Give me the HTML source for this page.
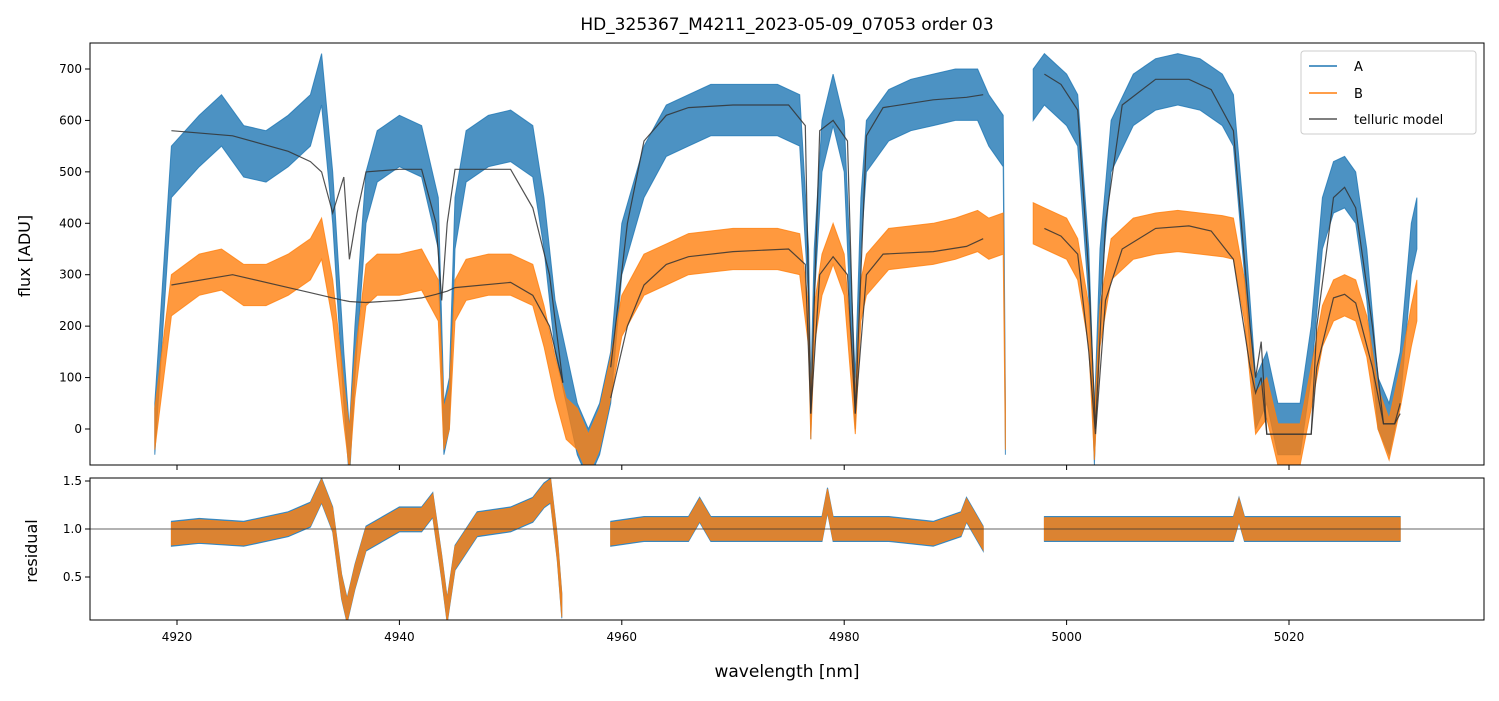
<!DOCTYPE html>
<html><head><meta charset="utf-8">
<style>
body{margin:0;background:#fff;font-family:"Liberation Sans","DejaVu Sans",sans-serif;}
svg text{font-family:"DejaVu Sans","Liberation Sans",sans-serif;}
</style></head>
<body>
<svg id="chart" width="1499" height="696" xmlns="http://www.w3.org/2000/svg">
<rect width="1499" height="696" fill="#fff"/>
<text x="787" y="30" font-size="17" text-anchor="middle">HD_325367_M4211_2023-05-09_07053  order 03</text>
<g id="topPanel"></g>
<g id="botPanel"></g>
<text transform="translate(30,256) rotate(-90)" font-size="16" text-anchor="middle">flux [ADU]</text>
<text transform="translate(37,551) rotate(-90)" font-size="16" text-anchor="middle">residual</text>
<text x="787" y="677" font-size="17" text-anchor="middle">wavelength [nm]</text>
</svg>
<script>
// ---- data (null = gap) ----
const aWave=[4918,4919.5,4922,4924,4926,4928,4930,4932,4933,4934,4935,4935.5,4936,4937,4938,4940,4942,4943.5,4944,4944.5,4945,4946,4948,4950,4952,4953,4954,4955,4956,4957,4958,4959,4960,4962,4964,4966,4968,4970,4972,4974,4976,4976.8,4977,4977.3,4978,4979,4980,4981,4981.5,4982,4984,4986,4988,4990,4992,4993,4994.3,4994.5,null,4997,4998,5000,5001,5002,5002.5,5003,5004,5006,5008,5010,5012,5014,5015,5016,5017,5018,5019,5020,5021,5022,5023,5024,5025,5026,5027,5028,5029,5030,5031,5031.5];
const aFlux=[0,500,560,600,540,530,560,600,680,450,100,-50,150,450,530,560,540,400,0,50,400,530,560,570,540,400,200,100,0,-50,0,100,350,500,580,600,620,620,620,620,600,300,30,300,550,640,550,50,400,550,610,630,640,650,650,600,560,0,null,650,680,640,600,300,-20,300,550,640,670,680,670,640,600,350,50,100,0,0,0,150,400,470,480,450,300,50,0,100,350,400];
const bFlux=[0,260,300,310,280,280,300,330,370,250,50,-40,100,280,300,300,310,250,0,40,250,290,300,300,280,200,100,20,0,-50,0,100,220,300,320,340,345,350,350,350,340,200,20,200,300,360,300,30,250,300,350,355,360,370,385,370,380,0,null,400,390,370,330,200,-20,200,330,370,380,385,380,375,370,250,30,60,-30,-30,-30,80,200,250,260,250,180,40,-20,80,200,250];
const aSpread=50, bSpread=40;
const mWave=[4919.5,4925,4930,4932,4933,4934,4935,4935.5,4936.2,4937,4940,4942,4943.3,4943.8,4944.3,4945,4950,4952,4953.5,4954.7,null,4959,4960.5,4962,4964,4966,4970,4975,4976.5,4977,4977.8,4979,4980.3,4981,4982,4983.5,4988,4991,4992.5,null,4998,4999.5,5001,5002,5002.6,5003.5,5005,5008,5011,5013,5015,5016.5,5017,5017.5,5018,5022,5022.5,5024,5025,5026,5027.5,5028.5,5029.5,5030];
const mA=[580,570,540,520,500,420,490,330,420,500,505,505,400,250,400,505,505,430,300,90,null,120,400,560,610,625,630,630,590,30,580,600,560,30,570,625,640,645,650,null,690,670,620,300,0,400,630,680,680,660,580,200,100,170,-10,-10,200,450,470,430,200,10,10,50];
const mB=[280,300,275,265,260,255,250,248,247,246,250,255,262,265,268,275,285,260,200,90,null,60,200,280,320,335,345,350,320,30,300,335,300,30,300,340,345,355,370,null,390,375,340,150,-10,250,350,390,395,385,330,120,70,100,-10,-10,120,255,262,245,120,10,10,30];
const rWave=[4919.5,4922,4926,4930,4932,4933,4934,4934.8,4935.3,4936,4937,4940,4942,4943,4943.8,4944.3,4945,4947,4950,4952,4953,4953.6,4954.2,4954.6,null,4959,4962,4966,4967,4968,4972,4978,4978.5,4979,4984,4988,4990.5,4991,4992.5,null,4998,5002,5006,5010,5015,5015.5,5016,5020,5024,5028,5030];
const rMid=[0.95,0.98,0.95,1.05,1.15,1.4,1.1,0.4,0.15,0.5,0.9,1.1,1.1,1.25,0.6,0.15,0.7,1.05,1.1,1.2,1.35,1.4,0.8,0.2,null,0.95,1.0,1.0,1.2,1.0,1.0,1.0,1.3,1.0,1.0,0.95,1.05,1.2,0.9,null,1.0,1.0,1.0,1.0,1.0,1.2,1.0,1.0,1.0,1.0,1.0];
const rSpread=0.13;
const xTicks=[4920,4940,4960,4980,5000,5020];
const yTicksTop=[0,100,200,300,400,500,600,700];
const yTicksBot=[0.5,1.0,1.5];
// ---- axes ----
const L=90,R=1484,T1=43,B1=465,T2=478,B2=620;
const x=w=>177+(w-4920)*11.12;
const y1=v=>429-v*0.5143;
const y2=v=>529-(v-1)*96;
const NS="http://www.w3.org/2000/svg";
function el(p,tag,attrs){const e=document.createElementNS(NS,tag);for(const k in attrs)e.setAttribute(k,attrs[k]);p.appendChild(e);return e;}
function segs(ws,vs){const out=[];let cur=[];ws.forEach((w,i)=>{if(w===null||vs[i]===null){if(cur.length)out.push(cur);cur=[];}else cur.push([w,vs[i]]);});if(cur.length)out.push(cur);return out;}
function clip(p,id,t,b){const d=el(p,'defs',{});const c=el(d,'clipPath',{id:id});el(c,'rect',{x:L,y:t,width:R-L,height:b-t});}
const topG=document.getElementById('topPanel'),botG=document.getElementById('botPanel');
clip(topG,'c1',T1,B1);clip(botG,'c2',T2,B2);
const g1=el(topG,'g',{'clip-path':'url(#c1)'}),g2=el(botG,'g',{'clip-path':'url(#c2)'});
function band(g,ws,vs,sp,ys,color,op,name){
  segs(ws,vs).forEach(s=>{
    let d='';s.forEach((p,i)=>d+=(i?'L':'M')+x(p[0]).toFixed(1)+','+ys(p[1]+sp).toFixed(1));
    for(let i=s.length-1;i>=0;i--)d+='L'+x(s[i][0]).toFixed(1)+','+ys(s[i][1]-sp).toFixed(1);
    const e=el(g,'path',{d:d+'Z',fill:color,'fill-opacity':op,stroke:color,'stroke-opacity':op,'stroke-width':1});
    
    
  });
}
function line(g,ws,vs,ys,color,wd,op,name){
  segs(ws,vs).forEach(s=>{
    let d='';s.forEach((p,i)=>d+=(i?'L':'M')+x(p[0]).toFixed(1)+','+ys(p[1]).toFixed(1));
    const e=el(g,'path',{d:d,fill:'none',stroke:color,'stroke-width':wd,'stroke-opacity':op});
    
    
  });
}
band(g1,aWave,aFlux,aSpread,y1,'#1f77b4',0.8,'series-a-flux');
band(g1,aWave,bFlux,bSpread,y1,'#ff7f0e',0.8,'series-b-flux');
line(g1,mWave,mA,y1,'#333',1.2,0.85,'telluric-model-a');
line(g1,mWave,mB,y1,'#333',1.2,0.85,'telluric-model-b');
band(g2,rWave,rMid,rSpread,y2,'#1f77b4',0.8,'residual-a');
band(g2,rWave,rMid,rSpread*0.9,y2,'#ff7f0e',0.8,'residual-b');
const ref=el(g2,'line',{x1:L,x2:R,y1:y2(1),y2:y2(1),stroke:'#333','stroke-width':0.8});


[[topG,T1,B1],[botG,T2,B2]].forEach(([g,t,b])=>el(g,'rect',{x:L,y:t,width:R-L,height:b-t,fill:'none',stroke:'#000','stroke-width':1}));
xTicks.forEach(v=>{
  el(topG,'line',{x1:x(v),x2:x(v),y1:B1,y2:B1+5,stroke:'#000'});
  el(botG,'line',{x1:x(v),x2:x(v),y1:B2,y2:B2+5,stroke:'#000'});
  const t=el(botG,'text',{x:x(v),y:B2+21,'font-size':12,'text-anchor':'middle'});t.textContent=v;
  
  
});
yTicksTop.forEach(v=>{
  el(topG,'line',{x1:L-5,x2:L,y1:y1(v),y2:y1(v),stroke:'#000'});
  const t=el(topG,'text',{x:L-8,y:y1(v)+4,'font-size':12,'text-anchor':'end'});t.textContent=v;
  
  
});
yTicksBot.forEach(v=>{
  el(botG,'line',{x1:L-5,x2:L,y1:y2(v),y2:y2(v),stroke:'#000'});
  const t=el(botG,'text',{x:L-8,y:y2(v)+4,'font-size':12,'text-anchor':'end'});t.textContent=v.toFixed(1);
  
  
});
// legend
const lg=el(topG,'g',{});


el(lg,'rect',{x:1301,y:51,width:175,height:83,fill:'#fff','fill-opacity':0.85,stroke:'#ccc',rx:3});
[['A','#1f77b4',1.5,66],['B','#ff7f0e',1.5,93],['telluric model','#555',1.5,119]].forEach(([lab,c,w,yy])=>{
  const it=el(lg,'g',{});
  
  
  el(it,'line',{x1:1309,x2:1337,y1:yy,y2:yy,stroke:c,'stroke-width':w});
  const t=el(it,'text',{x:1354,y:yy+5,'font-size':13});t.textContent=lab;
});
</script>
</body></html>
